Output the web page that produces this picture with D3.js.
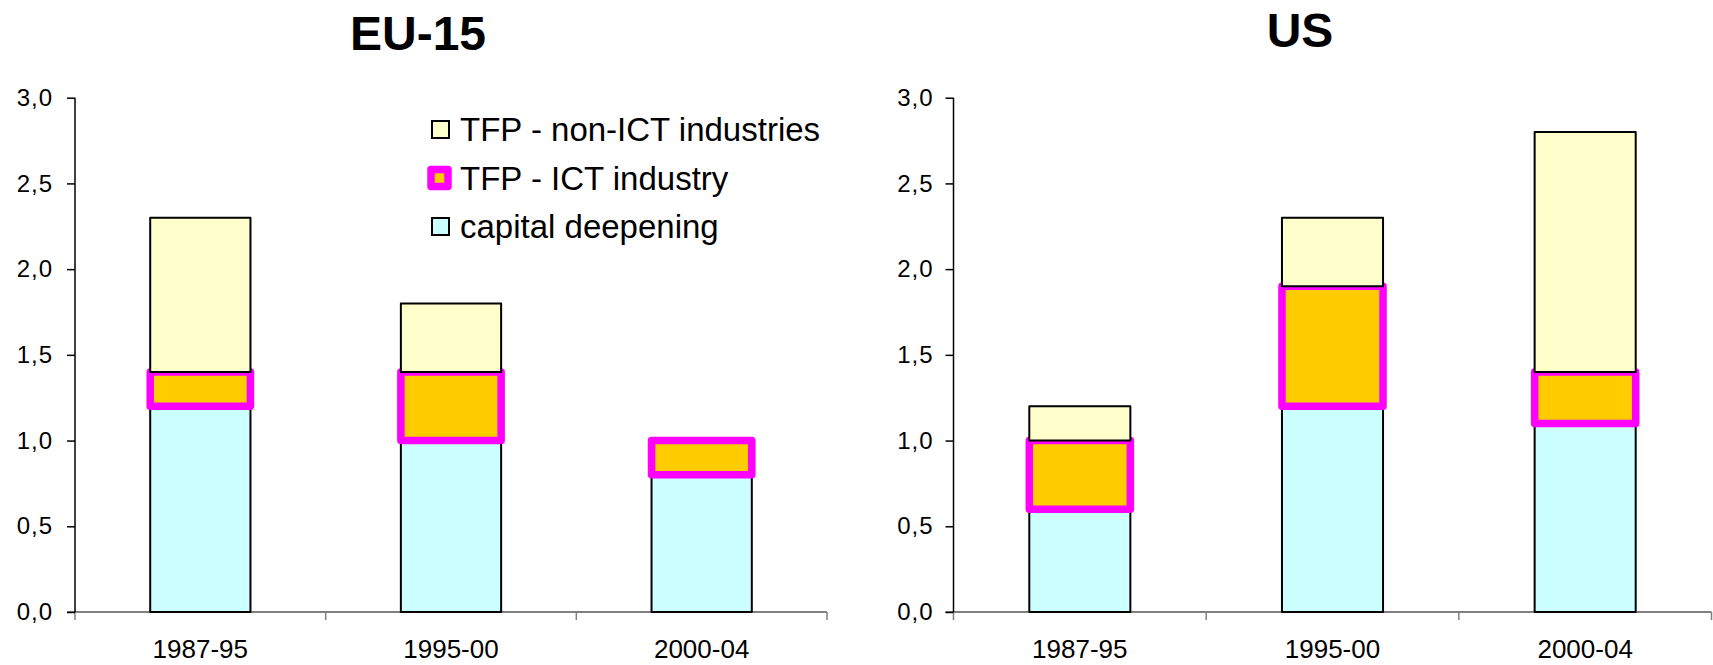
<!DOCTYPE html>
<html>
<head>
<meta charset="utf-8">
<script src="https://cdn.jsdelivr.net/npm/d3@7"></script>
<style>
  html, body { margin: 0; padding: 0; background: #fff; }
  svg { display: block; font-family: "Liberation Sans", Arial, sans-serif; }
</style>
</head>
<body>
<svg id="chart" width="1713" height="665"></svg>
<script>
// ---- data ----
const categories = ["1987-95", "1995-00", "2000-04"];
const seriesNames = ["capital deepening", "TFP - ICT industry", "TFP - non-ICT industries"];
const euCapital = [1.2, 1.0, 0.8];
const euIct     = [0.2, 0.4, 0.2];
const euNonIct  = [0.9, 0.4, 0.0];
const usCapital = [0.6, 1.2, 1.1];
const usIct     = [0.4, 0.7, 0.3];
const usNonIct  = [0.2, 0.4, 1.4];
const yTicks = [0, 0.5, 1.0, 1.5, 2.0, 2.5, 3.0];
const titles = ["EU-15", "US"];

// ---- styles ----
const fills   = ["#CCFFFF", "#FFCC00", "#FFFFCC"];
const strokes = ["#000000", "#FF00FF", "#000000"];
const strokeW = [2, 7.5, 2];

const svg = d3.select("#chart");
const y = d3.scaleLinear().domain([0, 3]).range([612, 97.7]);
const fmt = v => d3.format(".1f")(v).replace(".", ",");

function panel(cfg) {
  const g = svg.append("g");
  const x = d3.scaleBand().domain(categories).range([cfg.x0, cfg.x1])
    .paddingInner(0.6).paddingOuter(0.3);

  // title
  g.append("text").attr("x", cfg.titleX).attr("y", cfg.titleY)
    .attr("text-anchor", "middle").attr("font-weight", "bold")
    .attr("font-size", 48).text(cfg.title);

  // stacked data
  const rows = categories.map((c, i) => ({cat: c, s0: cfg.data[0][i], s1: cfg.data[1][i], s2: cfg.data[2][i]}));
  const stack = d3.stack().keys(["s0", "s1", "s2"])(rows);

  // x axis line (gray)
  g.append("line").attr("x1", cfg.x0 - 8).attr("x2", cfg.x1)
    .attr("y1", y(0)).attr("y2", y(0))
    .attr("stroke", "#808080").attr("stroke-width", 2);
  const step = x.step();
  const bounds = d3.range(4).map(i => cfg.x0 + i * step);
  g.selectAll(".xt").data(bounds).join("line")
    .attr("x1", d => d).attr("x2", d => d)
    .attr("y1", y(0)).attr("y2", y(0) + 8)
    .attr("stroke", "#808080").attr("stroke-width", 1.5);

  // bars
  stack.forEach((layer, li) => {
    g.append("g").selectAll("rect")
      .data(layer.filter(d => d[1] - d[0] > 0))
      .join("rect")
      .attr("x", d => x(d.data.cat))
      .attr("width", x.bandwidth())
      .attr("y", d => y(d[1]))
      .attr("height", d => y(d[0]) - y(d[1]))
      .attr("fill", fills[li])
      .attr("stroke", strokes[li])
      .attr("stroke-width", strokeW[li])
      .attr("stroke-linejoin", "round");
  });

  // y axis
  const ya = g.append("g").attr("transform", `translate(${cfg.x0},0)`)
    .call(d3.axisLeft(y).tickValues(yTicks).tickFormat(fmt).tickSize(8).tickPadding(cfg.tickPad));
  ya.select(".domain").attr("stroke", "#000").attr("stroke-width", 1.5).attr("d", `M-0,${y(3)}V${y(0)}`);
  ya.selectAll(".tick line").attr("stroke", "#000").attr("stroke-width", 1.5);
  ya.selectAll(".tick text").attr("font-size", 24).attr("fill", "#000")
    .attr("font-family", "'Liberation Sans', Arial, sans-serif").attr("letter-spacing", 1);

  // x labels
  g.selectAll(".xl").data(categories).join("text")
    .attr("x", d => x(d) + x.bandwidth() / 2).attr("y", 658)
    .attr("text-anchor", "middle").attr("font-size", 26).text(d => d);
}

panel({title: titles[0], titleX: 418, titleY: 50, x0: 75, x1: 827, tickPad: 14,
       data: [euCapital, euIct, euNonIct]});
panel({title: titles[1], titleX: 1300, titleY: 47, x0: 953.5, x1: 1711.5, tickPad: 12,
       data: [usCapital, usIct, usNonIct]});

// legend (top to bottom: non-ICT, ICT, capital)
const legOrder = [2, 1, 0];
const lg = svg.append("g");
legOrder.forEach((si, k) => {
  const cy = 130 + k * 48.5;
  if (si === 1) {
    lg.append("rect").attr("x", 431).attr("y", cy - 9).attr("width", 17).attr("height", 17)
      .attr("fill", fills[si]).attr("stroke", strokes[si]).attr("stroke-width", 7.5)
      .attr("stroke-linejoin", "round");
  } else {
    lg.append("rect").attr("x", 432).attr("y", cy - 9).attr("width", 17).attr("height", 17)
      .attr("fill", fills[si]).attr("stroke", strokes[si]).attr("stroke-width", 2);
  }
  lg.append("text").attr("x", 460).attr("y", cy + 11).attr("font-size", 33)
    .text(seriesNames[si]);
});
</script>
</body>
</html>
